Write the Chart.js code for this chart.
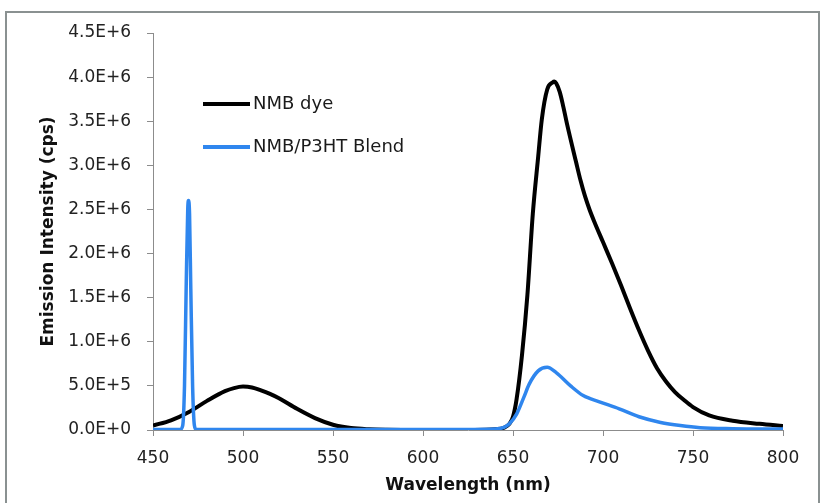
<!DOCTYPE html>
<html>
<head>
<meta charset="utf-8">
<script src="https://cdn.jsdelivr.net/npm/chart.js@4.4.1/dist/chart.umd.min.js"></script>
<style>
  html, body { margin: 0; padding: 0; background: #fff; }
  #wrap { width: 825px; height: 503px; position: relative; }
</style>
</head>
<body>
<div id="wrap"><canvas id="grafico"></canvas></div>
<script>
// NMB dye emission
const dyeWavelength = [450, 460, 470, 480, 490, 495, 500, 505, 510, 515, 520, 530, 540, 550, 560, 570, 580, 600, 620, 635, 640, 645, 648, 650, 652, 655, 658, 661, 664, 666, 669, 672, 673, 674, 676, 678, 680, 685, 687.5, 690, 692.5, 695, 700, 705, 710, 715, 720, 725, 730, 735, 740, 745, 750, 759, 772, 787, 800];
const dyeIntensity = [50000, 110000, 205000, 330000, 440000, 475000, 492000, 482000, 450000, 410000, 360000, 240000, 135000, 60000, 22000, 8000, 3000, 1000, 1000, 3000, 8000, 25000, 70000, 150000, 350000, 850000, 1530000, 2450000, 3100000, 3520000, 3860000, 3940000, 3950000, 3930000, 3830000, 3660000, 3470000, 3040000, 2830000, 2650000, 2500000, 2370000, 2130000, 1890000, 1640000, 1380000, 1130000, 900000, 700000, 550000, 430000, 340000, 260000, 165000, 105000, 70000, 45000];

// NMB/P3HT blend emission
const blendWavelength = [450, 465, 466.5, 467.5, 468.5, 469.3, 469.7, 470.3, 471, 472, 473, 474, 500, 600, 640, 645, 648, 652, 656, 659, 664, 669, 674, 682, 689, 698, 709, 720, 732, 743, 754, 772, 800];
const blendIntensity = [5000, 5000, 50000, 500000, 1700000, 2500000, 2600000, 2450000, 1600000, 500000, 50000, 5000, 5000, 5000, 12000, 30000, 70000, 180000, 370000, 520000, 670000, 710000, 650000, 500000, 390000, 320000, 240000, 150000, 86000, 50000, 26000, 15000, 10000];

const xTicks = [450, 500, 550, 600, 650, 700, 750, 800];
const yTicks = [0, 500000, 1000000, 1500000, 2000000, 2500000, 3000000, 3500000, 4000000, 4500000];

const legendLabels = ['NMB dye', 'NMB/P3HT Blend'];
const cores = ['#000000', '#2f86ee'];

function pontos(xs, ys) {
  return xs.map((x, i) => ({ x, y: ys[i] }));
}

function formatoCientifico(v) {
  if (v === 0) return '0.0E+0';
  const exp = Math.floor(Math.log10(v) + 1e-9);
  const m = v / Math.pow(10, exp);
  return `${m.toFixed(1)}E+${exp}`;
}

const fonte = "'DejaVu Sans', sans-serif";

const molduraPlugin = {
  id: 'moldura',
  beforeDraw(chart) {
    const ctx = chart.ctx;
    ctx.save();
    ctx.strokeStyle = '#8a9191';
    ctx.lineWidth = 2;
    ctx.strokeRect(6, 12, 813, 600);
    ctx.restore();
  }
};

const legendaPlugin = {
  id: 'legenda',
  afterDraw(chart) {
    const ctx = chart.ctx;
    const linhas = [104, 147];
    ctx.save();
    ctx.font = `18px ${fonte}`;
    ctx.textBaseline = 'middle';
    ctx.fillStyle = '#1a1a1a';
    legendLabels.forEach((label, i) => {
      ctx.strokeStyle = cores[i];
      ctx.lineWidth = 4;
      ctx.beginPath();
      ctx.moveTo(203, linhas[i]);
      ctx.lineTo(250, linhas[i]);
      ctx.stroke();
      ctx.fillText(label, 253, linhas[i]);
    });
    ctx.restore();
  }
};

const ctx = document.getElementById('grafico').getContext('2d');
new Chart(ctx, {
  type: 'line',
  data: {
    datasets: [
      {
        label: legendLabels[0],
        data: pontos(dyeWavelength, dyeIntensity),
        borderColor: cores[0],
        borderWidth: 4,
        pointRadius: 0,
        cubicInterpolationMode: 'monotone',
        fill: false,
        order: 2
      },
      {
        label: legendLabels[1],
        data: pontos(blendWavelength, blendIntensity),
        borderColor: cores[1],
        borderWidth: 3.5,
        pointRadius: 0,
        cubicInterpolationMode: 'monotone',
        fill: false,
        order: 1
      }
    ]
  },
  options: {
    responsive: true,
    maintainAspectRatio: false,
    animation: false,
    layout: { padding: { top: 33, right: 42, left: 0, bottom: 0 } },
    plugins: {
      legend: { display: false },
      tooltip: { enabled: false }
    },
    scales: {
      x: {
        type: 'linear',
        min: 450,
        max: 800,
        afterBuildTicks: axis => { axis.ticks = xTicks.map(v => ({ value: v })); },
        afterFit: axis => { axis.height = 73; },
        ticks: {
          padding: 12,
          color: '#222',
          font: { family: fonte, size: 17 },
          callback: v => String(v)
        },
        grid: { drawOnChartArea: false, drawTicks: true, tickLength: 6, color: '#8c8c8c' },
        border: { color: '#8c8c8c', width: 1 },
        title: {
          display: true,
          text: 'Wavelength (nm)',
          color: '#111',
          font: { family: fonte, size: 17, weight: 'bold' },
          padding: { top: 0, bottom: 7 }
        }
      },
      y: {
        min: 0,
        max: 4500000,
        afterBuildTicks: axis => { axis.ticks = yTicks.map(v => ({ value: v })); },
        afterFit: axis => { axis.width = 153; },
        ticks: {
          padding: 16,
          color: '#222',
          font: { family: fonte, size: 17 },
          callback: v => formatoCientifico(v)
        },
        grid: { drawOnChartArea: false, drawTicks: true, tickLength: 6, color: '#8c8c8c' },
        border: { color: '#8c8c8c', width: 1 },
        title: {
          display: true,
          text: 'Emission Intensity (cps)',
          color: '#111',
          font: { family: fonte, size: 17, weight: 'bold' },
          padding: { top: 38, bottom: 0 }
        }
      }
    }
  },
  plugins: [molduraPlugin, legendaPlugin]
});
</script>
</body>
</html>
